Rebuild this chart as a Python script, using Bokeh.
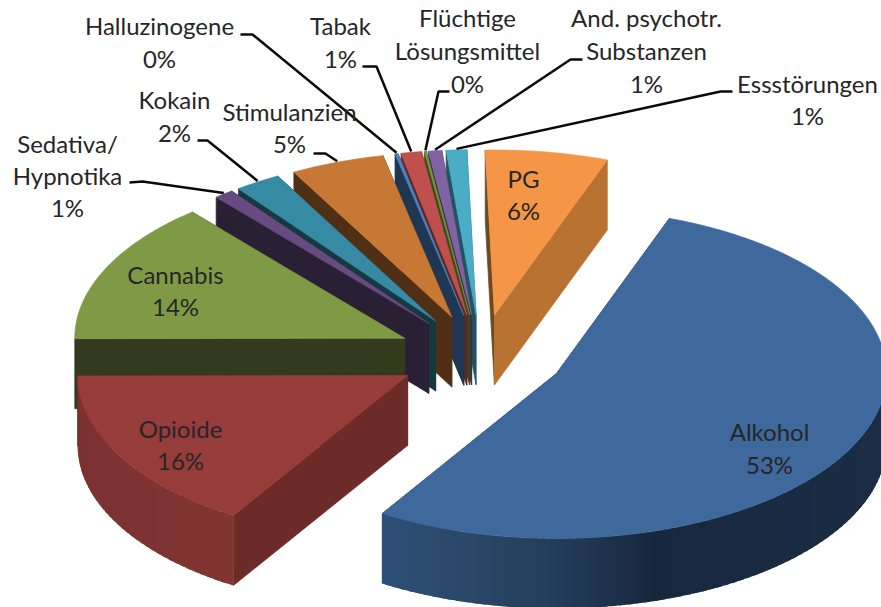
import math
from bokeh.plotting import figure
from bokeh.models import ColumnDataSource
from bokeh.core.properties import value
from bokeh.embed import file_html
from bokeh.resources import INLINE

# ---- data ----
categories = ["PG", "Alkohol", "Opioide", "Cannabis", "Sedativa/\nHypnotika", "Kokain", "Stimulanzien",
              "Halluzinogene", "Tabak", "Flüchtige\nLösungsmittel", "And. psychotr.\nSubstanzen", "Essstörungen"]
shares = [6.0, 53.3, 16.1, 13.9, 0.95, 2.25, 4.6, 0.15, 1.0, 0.1, 0.65, 1.0]
percent_labels = ["6%", "53%", "16%", "14%", "1%", "2%", "5%", "0%", "1%", "0%", "1%", "1%"]

top_colors = ["#F49645", "#3F689C", "#963C3B", "#7F9A45", "#664A80", "#378AA4", "#C67834",
              "#4F81BD", "#C0504D", "#75923C", "#8064A2", "#4BACC6"]
start_cut_colors = ["#6B4A20", "#24405F", "#6C2A29", "#343A1E", "#2A2033", "#16393F", "#512F15",
                    "#1F3753", "#5E2624", "#3A4A1E", "#3A2D50", "#1F5563"]
end_cut_colors = ["#B87333", "#24405F", "#6C2A29", "#343A1E", "#2A2033", "#16393F", "#512F15",
                  "#1F3753", "#5E2624", "#3A4A1E", "#3A2D50", "#1F5563"]
wall_stops = {1: [(380, "#2E5078"), (480, "#2A4666"), (560, "#233C59"), (650, "#17283E"), (881, "#1A2D44")],
              2: [(77, "#7A3230"), (233, "#813533")]}

# ---- layout ----
W, H = 881, 607
START_ANGLE = -1.6
CX, CY = 480.5, 355
RX, RY = 330, 165
EX, EY = 84, 41
DEPTH = 70
draw_order = [11, 10, 9, 8, 7, 6, 5, 4, 0, 3, 2, 1]

label_centers = {
    0: (523, [178, 210]), 1: (769, [431, 464]), 2: (180, [428, 460]), 3: (175, [274, 306]),
    4: (67, [143, 175, 207]), 5: (174, [99, 132]), 6: (289, [111, 143]), 7: (159, [25, 58]),
    8: (340, [25, 58]), 9: (467, [17, 50, 83]), 10: (646, [17, 50, 83]), 11: (807, [83, 115]),
}
leader_elbows = {
    4: [(129, 182), (142, 181)], 5: [(197, 140), (207, 140)], 6: [(313, 153), (325, 153)],
    7: [(240, 34), (252, 34)], 8: [(362, 66), (376, 66)], 9: [(449, 91), (438, 91)],
    10: [(582, 59), (570, 59)], 11: [(732, 91), (720, 91)],
}


def hex_rgb(c):
    return tuple(int(c[i:i + 2], 16) for i in (1, 3, 5))


def grad(stops, x):
    if x <= stops[0][0]:
        return stops[0][1]
    for (x0, c0), (x1, c1) in zip(stops, stops[1:]):
        if x <= x1:
            t = (x - x0) / (x1 - x0)
            a, b = hex_rgb(c0), hex_rgb(c1)
            return "#%02X%02X%02X" % tuple(round(a[i] + (b[i] - a[i]) * t) for i in range(3))
    return stops[-1][1]


total = sum(shares)
bounds = [START_ANGLE]
for s in shares:
    bounds.append(bounds[-1] + s / total * 360)

xs, ys, cols, lws = [], [], [], []


def add(poly, col, lw=0.7):
    xs.append([q[0] for q in poly])
    ys.append([q[1] for q in poly])
    cols.append(col)
    lws.append(lw)


def arc_pt(apex, deg, dz=0):
    r = math.radians(deg)
    return (apex[0] + RX * math.sin(r), apex[1] - RY * math.cos(r) + dz)


apexes, mids = [], []
for i in range(len(shares)):
    mid = (bounds[i] + bounds[i + 1]) / 2
    r = math.radians(mid)
    apexes.append((CX + EX * math.sin(r), CY - EY * math.cos(r)))
    mids.append(mid)

for i in draw_order:
    a0, a1 = bounds[i], bounds[i + 1]
    ap = apexes[i]
    ap_low = (ap[0], ap[1] + DEPTH)
    # cut faces
    add([ap, arc_pt(ap, a0), arc_pt(ap, a0, DEPTH), ap_low], start_cut_colors[i])
    add([ap, arc_pt(ap, a1), arc_pt(ap, a1, DEPTH), ap_low], end_cut_colors[i])
    # outer wall (front half only), split into overlapping strips for its shading
    n = max(2, int((a1 - a0) / 1.5))
    for k in range(n):
        t0 = a0 + (a1 - a0) * k / n
        t1 = a0 + (a1 - a0) * (k + 1) / n
        tm = (t0 + t1) / 2
        if 90 <= tm % 360 <= 270:
            px = arc_pt(ap, tm)[0]
            col = grad(wall_stops[i], px) if i in wall_stops else end_cut_colors[i]
            # each strip reaches over the next one's start so no seam shows
            samples = [t0 + (min(t1 + 1.0, a1) - t0) * j / 4 for j in range(5)]
            poly = [arc_pt(ap, t) for t in samples] + [arc_pt(ap, t, DEPTH) for t in reversed(samples)]
            add(poly, col, 0)
    # top face
    m = max(2, int((a1 - a0) * 2))
    add([ap] + [arc_pt(ap, a0 + (a1 - a0) * k / m) for k in range(m + 1)], top_colors[i])

p = figure(width=W, height=H, x_range=(0, W), y_range=(H, 0), output_backend="svg",
           toolbar_location=None, min_border=0, outline_line_color=None)
p.axis.visible = False
p.grid.visible = False
p.background_fill_color = "white"

src = ColumnDataSource(dict(xs=xs, ys=ys, fc=cols, lw=lws))
p.patches("xs", "ys", source=src, fill_color="fc", line_color="fc", line_width="lw")

# leader lines
lx, ly = [], []
for i, elbows in leader_elbows.items():
    end = arc_pt(apexes[i], mids[i], -1)
    lx.append([q[0] for q in elbows] + [end[0]])
    ly.append([q[1] for q in elbows] + [end[1]])
p.multi_line(lx, ly, line_color="#0A0A0A", line_width=2.5)

# labels
tx, ty, tt = [], [], []
for i, (x, ypos) in label_centers.items():
    lines = categories[i].split("\n") + [percent_labels[i]]
    for line, y in zip(lines, ypos):
        tx.append(x)
        ty.append(y)
        tt.append(line)
p.text(tx, ty, text=tt, text_align="center", text_baseline="middle",
       text_font=value("Lato"), text_font_size="24px", text_color="#262626")

open("out.html", "w").write(file_html(p, INLINE))
